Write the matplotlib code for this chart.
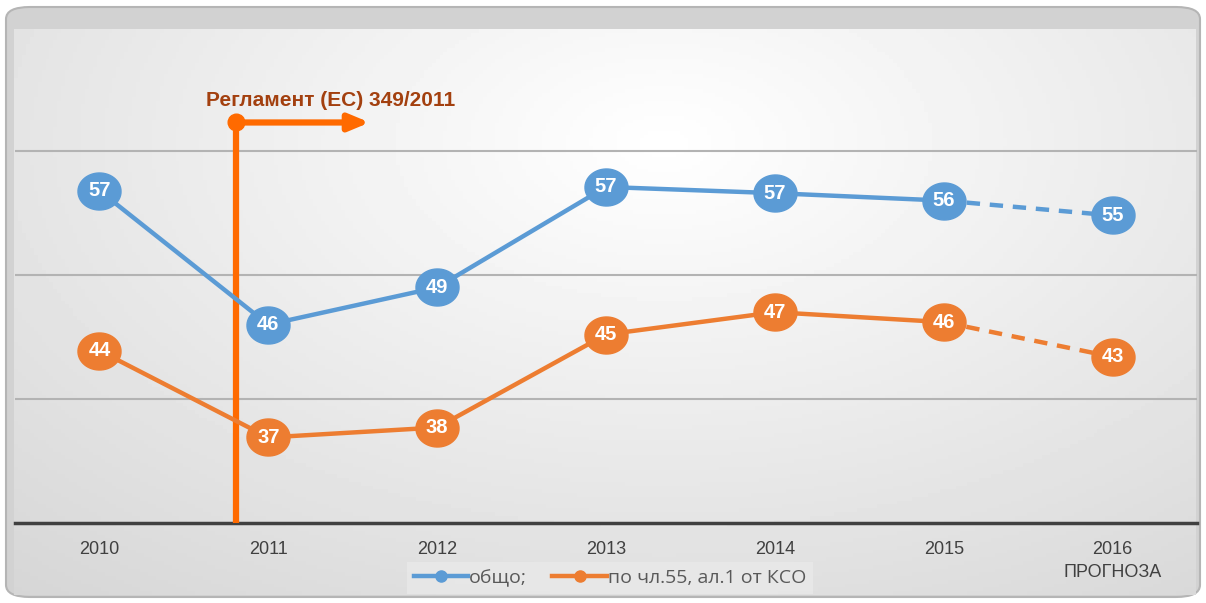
import numpy as np
import matplotlib.pyplot as plt
from matplotlib.patches import FancyBboxPatch
from matplotlib.lines import Line2D
from matplotlib.path import Path

# Data
years = ['2010', '2011', '2012', '2013', '2014', '2015', '2016\nПРОГНОЗА']
total = [56.8, 46.0, 49.0, 57.1, 56.6, 56.0, 54.8]
art55 = [43.9, 36.9, 37.7, 45.2, 47.0, 46.2, 43.4]
total_labels = [57, 46, 49, 57, 57, 56, 55]
art55_labels = [44, 37, 38, 45, 47, 46, 43]
series_names = ['общо;', 'по чл.55, ал.1 от КСО']

# Regulation marker (category position and height)
reg_x = 0.81
reg_y = 62.3
reg_arrow_end = 1.6
reg_text = 'Регламент (ЕС) 349/2011'

blue = '#5B9BD5'
orange = '#ED7D31'
reg_color = '#FF6A00'

W, H = 1206, 603
fig = plt.figure(figsize=(W / 100, H / 100), dpi=100)
fig.patch.set_facecolor('white')

# Rounded outer frame
frame = FancyBboxPatch((6 / W, 6 / H), 1194 / W, 590 / H,
                       boxstyle='round,pad=0,rounding_size=0.02',
                       transform=fig.transFigure, facecolor='#d2d2d2',
                       edgecolor='#b5b5b5', linewidth=1.5, zorder=-2)
fig.patches.append(frame)

# Gradient panel behind the plot
bg = fig.add_axes([14 / W, 8 / H, 1182 / W, 566 / H], zorder=0.5)
gx, gy = np.meshgrid(np.linspace(0, 1, 300), np.linspace(0, 1, 150))
dist = np.sqrt(((gx - 0.55) / 0.9) ** 2 + ((gy - 0.2) / 1.1) ** 2)
grad = np.clip(1.0 - 0.17 * dist, 0, 1)
bg.imshow(grad, cmap='gray', vmin=0, vmax=1, aspect='auto',
          extent=[0, 1, 1, 0])
bg.set_axis_off()

ax = fig.add_axes([15 / W, 80 / H, 1182 / W, 496 / H], zorder=1)
ax.set_facecolor('none')
x = np.arange(len(years))

ax.set_xlim(-0.5, len(years) - 0.5)
ax.set_ylim(30, 70)
for gv in [40, 50, 60]:
    ax.axhline(gv, color='#b3b3b3', lw=1.5, zorder=1)
ax.axhline(30, color='#404040', lw=2.5, zorder=2, clip_on=False)

# Regulation line and arrow
ax.plot([reg_x, reg_x], [30, reg_y], color=reg_color, lw=4.5, zorder=3,
        solid_capstyle='butt')
ax.annotate('', xy=(reg_arrow_end, reg_y), xytext=(reg_x, reg_y),
            arrowprops=dict(arrowstyle='-|>,head_length=1.2,head_width=0.5',
                            color=reg_color, lw=4.5, shrinkA=0, shrinkB=0),
            zorder=3)
ax.plot(reg_x, reg_y, 'o', color=reg_color, ms=12, zorder=4)
ax.text(reg_x + 0.56, reg_y + 1.8, reg_text, color='#A3400F', fontsize=15,
        fontweight='bold', family='Liberation Sans', ha='center',
        va='center', zorder=4)

# elliptical marker, a bit wider than tall
t = np.linspace(0, 2 * np.pi, 60)
ellipse = Path(np.column_stack([np.cos(t), 0.86 * np.sin(t)]))

# Series: solid up to 2015, dashed forecast
for vals, labs, col in [(total, total_labels, blue),
                        (art55, art55_labels, orange)]:
    ax.plot(x[:-1], vals[:-1], color=col, lw=3.2, zorder=5)
    ax.plot(x[-2:], vals[-2:], color=col, lw=3.2, ls=(0, (3, 2.2)), zorder=5)
    ax.plot(x, vals, ls='none', marker=ellipse, color=col, ms=31, mec=col,
            zorder=6)
    for xi, v, lab in zip(x, vals, labs):
        ax.text(xi, v, str(lab), color='white', fontsize=14.5,
                fontweight='bold', family='Liberation Sans',
                ha='center', va='center', zorder=7)

ax.set_xticks(x)
ax.set_xticklabels(years, fontsize=13, color='#404040',
                   family='Liberation Sans', linespacing=1.45)
ax.tick_params(axis='x', length=0, pad=13)
ax.set_yticks([])
for s in ax.spines.values():
    s.set_visible(False)

handles = [Line2D([], [], color=blue, lw=3.2, marker='o', ms=8),
           Line2D([], [], color=orange, lw=3.2, marker='o', ms=8)]
leg = ax.legend(handles, series_names, loc='center',
                bbox_to_anchor=(610 / W, 1 - 578 / H),
                bbox_transform=fig.transFigure, ncol=2, frameon=True,
                fancybox=False, prop={'family': 'Open Sans', 'size': 14},
                handlelength=2.8, handletextpad=0.05, columnspacing=1.3,
                borderpad=0.35, borderaxespad=0)
leg.get_frame().set_facecolor('#e9e9e9')
leg.get_frame().set_edgecolor('none')
for txt in leg.get_texts():
    txt.set_color('#595959')

fig.savefig('out.png', dpi=100)
